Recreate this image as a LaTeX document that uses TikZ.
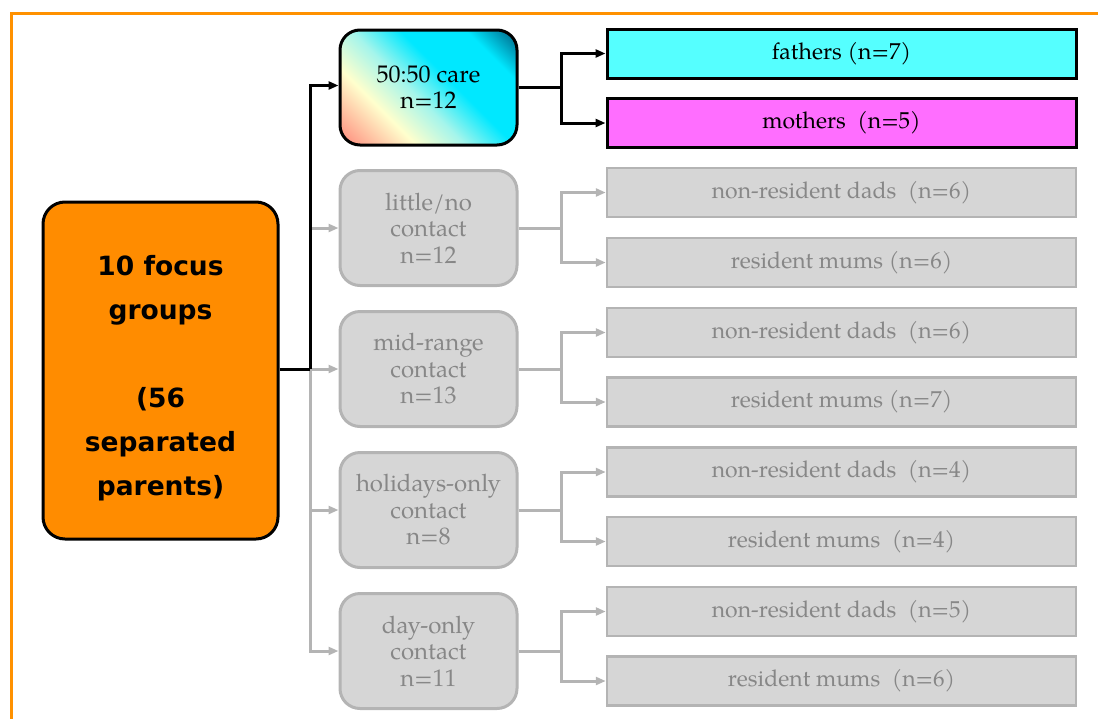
\documentclass[tikz,border=0pt]{standalone}
\usepackage{fontspec}
\setmainfont{TeX Gyre Pagella}
\newfontfamily\comicfont{DejaVu Sans}
\usetikzlibrary{arrows.meta,calc}
\definecolor{frameor}{RGB}{255,145,0}
\definecolor{mainor}{RGB}{255,140,0}
\definecolor{gryfill}{RGB}{214,214,214}
\definecolor{grline}{RGB}{180,180,180}
\definecolor{grtext}{RGB}{135,135,135}
\definecolor{cyanbox}{RGB}{85,255,255}
\definecolor{magbox}{RGB}{255,110,255}
\definecolor{sal}{RGB}{255,130,118}
\definecolor{crm}{RGB}{255,255,205}
\definecolor{lcyn}{RGB}{165,245,235}
\definecolor{cyn}{RGB}{0,232,255}
\definecolor{dteal}{RGB}{0,85,120}
\pgfdeclarehorizontalshading{careshade}{100bp}{color(0bp)=(sal); color(14bp)=(sal); color(33bp)=(crm); color(45bp)=(lcyn); color(57bp)=(cyn); color(73bp)=(cyn); color(86bp)=(dteal); color(100bp)=(dteal)}
\tikzset{
  frameline/.style={draw=frameor, line width=3pt},
  mainbox/.style={draw=black, line width=3pt, fill=mainor, rounded corners=22pt,
    minimum width=235pt, minimum height=337pt},
  maintext/.style={align=center, inner sep=0pt,
    font=\comicfont\bfseries\fontsize{26.5}{44}\selectfont},
  midbox/.style={rounded corners=20pt, minimum width=177pt, minimum height=115pt,
    line width=3pt, align=center, inner sep=0pt, font=\fontsize{24}{26.5}\selectfont},
  activemid/.style={midbox, draw=black, shading=careshade, shading angle=45, text=black},
  grymid/.style={midbox, draw=grline, fill=gryfill, text=grtext},
  rbox/.style={minimum width=469pt, minimum height=49pt, inner sep=0pt, font=\fontsize{23}{26}\selectfont},
  blkbox/.style={rbox, draw=black, line width=3pt, text=black},
  grybox/.style={rbox, draw=grline, line width=2.5pt, fill=gryfill, text=grtext},
  blk/.style={line width=3pt, draw=black},
  gln/.style={line width=3pt, draw=grline},
  arr/.style={-{Triangle[length=10pt,width=8pt]}}
}
\begin{document}
\begin{tikzpicture}[x=1pt,y=-1pt]
\useasboundingbox (0,0) rectangle (1098,718);
\draw[frameline] (11,722) -- (11,13) -- (1102,13);

\node[mainbox] (main) at (160.5,370.5) {};
\node[maintext] (maintxt) at ([yshift=-8pt]main.center) {10 focus\\groups\\[44pt](56\\separated\\parents)};

\node[activemid] (m1) at (428.5,87.5) {50:50 care\\n=12};
\node[grymid] (m2) at (428.5,228) {little/no\\contact\\n=12};
\node[grymid] (m3) at (428.5,369) {mid-range\\contact\\n=13};
\node[grymid] (m4) at (428.5,510) {holidays-only\\contact\\n=8};
\node[grymid] (m5) at (428.5,651) {day-only\\contact\\n=11};

\node[blkbox, fill=cyanbox] (r1) at (841.5,53.5) {fathers (n=7)};
\node[blkbox, fill=magbox] (r2) at (841.5,123) {mothers\ \ (n=5)};
\node[grybox] (r3) at (841.5,192.5) {non-resident dads\ \ (n=6)};
\node[grybox] (r4) at (841.5,262.5) {resident mums (n=6)};
\node[grybox] (r5) at (841.5,332.5) {non-resident dads\ \ (n=6)};
\node[grybox] (r6) at (841.5,402) {resident mums (n=7)};
\node[grybox] (r7) at (841.5,472) {non-resident dads\ \ (n=4)};
\node[grybox] (r8) at (841.5,541.5) {resident mums\ \ (n=4)};
\node[grybox] (r9) at (841.5,611.5) {non-resident dads\ \ (n=5)};
\node[grybox] (r10) at (841.5,681) {resident mums\ \ (n=6)};

% trunk
\coordinate (j) at (310,369);
\draw[gln,arr] (j) |- (m2);
\draw[gln,arr] (j) -- (m3);
\draw[gln,arr] (j) |- (m4);
\draw[gln,arr] (j) |- (m5);
\draw[blk] (main.east |- j) -- (j);
\draw[blk,arr] (j) |- ([yshift=2pt]m1.west);

% sub branches
\coordinate (s1) at ($(m1.east)+(43,0)$);
\draw[blk] (m1.east) -- (s1);
\draw[blk,arr] (s1) |- (r1);
\draw[blk,arr] (s1) |- (r2);

\coordinate (s2) at ($(m2.east)+(43,0)$);
\draw[gln] (m2.east) -- (s2);
\draw[gln,arr] (s2) |- (r3);
\draw[gln,arr] (s2) |- (r4);

\coordinate (s3) at ($(m3.east)+(43,0)$);
\draw[gln] (m3.east) -- (s3);
\draw[gln,arr] (s3) |- (r5);
\draw[gln,arr] (s3) |- (r6);

\coordinate (s4) at ($(m4.east)+(43,0)$);
\draw[gln] (m4.east) -- (s4);
\draw[gln,arr] (s4) |- (r7);
\draw[gln,arr] (s4) |- (r8);

\coordinate (s5) at ($(m5.east)+(43,0)$);
\draw[gln] (m5.east) -- (s5);
\draw[gln,arr] (s5) |- (r9);
\draw[gln,arr] (s5) |- (r10);
\end{tikzpicture}
\end{document}
